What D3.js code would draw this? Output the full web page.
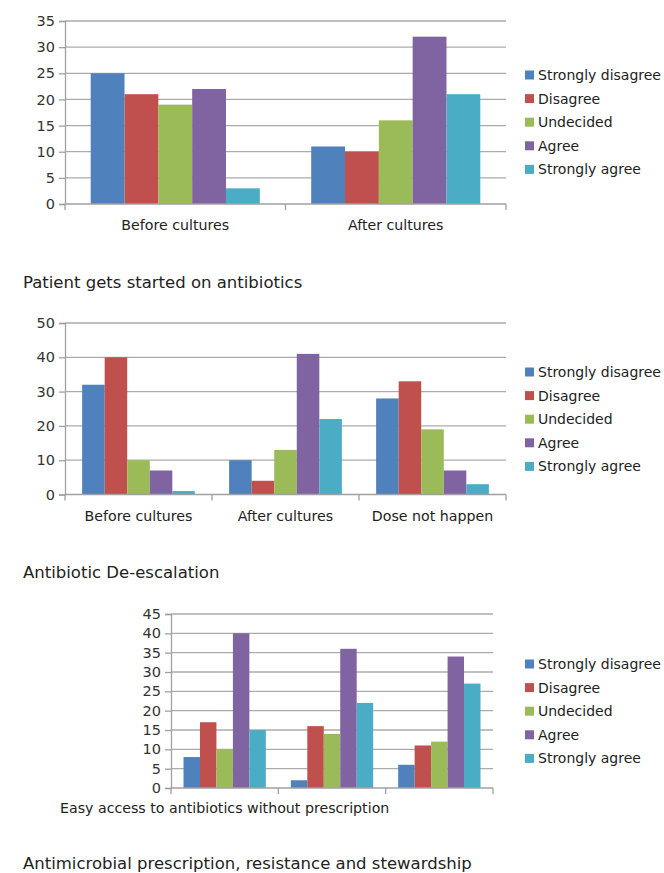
<!DOCTYPE html>
<html>
<head>
<meta charset="utf-8">
<script src="https://cdn.jsdelivr.net/npm/d3@7"></script>
<style>
  body { margin: 0; background: #fff; }
  svg { display: block; font-family: "DejaVu Sans", Verdana, sans-serif; }
</style>
</head>
<body>
<svg id="chart" width="664" height="873"></svg>
<script>
// Response levels shared by all three panels
const series = ["Strongly disagree", "Disagree", "Undecided", "Agree", "Strongly agree"];
const colors = ["#4f81bd", "#c0504d", "#9bbb59", "#8064a2", "#4bacc6"];

// Panel 1: Patient gets started on antibiotics
const startCategories = ["Before cultures", "After cultures"];
const startValues = [
  [25, 21, 19, 22, 3],
  [11, 10, 16, 32, 21]
];
const startTicks = [0, 5, 10, 15, 20, 25, 30, 35];

// Panel 2: Antibiotic De-escalation
const deescCategories = ["Before cultures", "After cultures", "Dose not happen"];
const deescValues = [
  [32, 40, 10, 7, 1],
  [10, 4, 13, 41, 22],
  [28, 33, 19, 7, 3]
];
const deescTicks = [0, 10, 20, 30, 40, 50];

// Panel 3: Antimicrobial prescription, resistance and stewardship
const amsCategories = ["Easy access to antibiotics without prescription", "", ""];
const amsValues = [
  [8, 17, 10, 40, 15],
  [2, 16, 14, 36, 22],
  [6, 11, 12, 34, 27]
];
const amsTicks = [0, 5, 10, 15, 20, 25, 30, 35, 40, 45];

const titles = [
  "Patient gets started on antibiotics",
  "Antibiotic De-escalation",
  "Antimicrobial prescription, resistance and stewardship"
];

const svg = d3.select("#chart");

function panel(cfg) {
  const g = svg.append("g");
  const x = d3.scaleBand().domain(d3.range(cfg.categories.length))
    .range([cfg.left, cfg.right]);
  const yMax = cfg.ticks[cfg.ticks.length - 1];
  const y = d3.scaleLinear().domain([0, yMax]).range([cfg.bottom, cfg.top]);
  const inner = d3.scaleBand().domain(series).range([0, x.bandwidth()])
    .paddingOuter(0.76).paddingInner(0);

  // horizontal gridlines
  g.append("g").selectAll("line").data(cfg.ticks.slice(1)).join("line")
    .attr("x1", cfg.left).attr("x2", cfg.right)
    .attr("y1", d => y(d)).attr("y2", d => y(d))
    .attr("stroke", "#ababab").attr("stroke-width", 1.3);

  // y axis
  const yAxis = g.append("g").attr("transform", `translate(${cfg.left},0)`)
    .call(d3.axisLeft(y).tickValues(cfg.ticks).tickSize(6).tickPadding(4));
  yAxis.select(".domain").attr("stroke", "#a0a0a0").attr("stroke-width", 1.3);
  yAxis.selectAll(".tick line").attr("stroke", "#a0a0a0").attr("stroke-width", 1.3);
  yAxis.selectAll("text").attr("font-size", 14.5).attr("fill", "#333")
    .attr("font-family", "DejaVu Sans, sans-serif");

  // bars
  cfg.values.forEach((row, ci) => {
    g.append("g").selectAll("rect").data(row).join("rect")
      .attr("x", (d, i) => x(ci) + inner(series[i]))
      .attr("width", inner.bandwidth())
      .attr("y", d => y(d))
      .attr("height", d => y(0) - y(d))
      .attr("fill", (d, i) => colors[i]);
  });

  // x axis baseline with category boundary ticks
  const bounds = d3.range(cfg.categories.length + 1).map(i =>
    i < cfg.categories.length ? x(i) : cfg.right);
  g.append("line").attr("x1", cfg.left).attr("x2", cfg.right)
    .attr("y1", y(0)).attr("y2", y(0))
    .attr("stroke", "#a0a0a0").attr("stroke-width", 1.3);
  g.append("g").selectAll("line").data(bounds).join("line")
    .attr("x1", d => d).attr("x2", d => d)
    .attr("y1", y(0)).attr("y2", y(0) + 6)
    .attr("stroke", "#a0a0a0").attr("stroke-width", 1.3);

  // category labels
  g.append("g").selectAll("text").data(cfg.categories).join("text")
    .attr("x", (d, i) => x(i) + x.bandwidth() / 2)
    .attr("y", y(0) + cfg.labelGap)
    .attr("text-anchor", "middle")
    .attr("font-size", 14.2).attr("fill", "#222")
    .text(d => d);

  // legend
  const lg = g.append("g").attr("transform", `translate(525,${cfg.legendTop})`);
  series.forEach((s, i) => {
    const row = lg.append("g").attr("transform", `translate(0,${i * 23.6})`);
    row.append("rect").attr("x", 0).attr("y", -4.5).attr("width", 9).attr("height", 9)
      .attr("fill", colors[i]);
    row.append("text").attr("x", 13).attr("y", 0).attr("dy", "0.35em")
      .attr("font-size", 14).attr("fill", "#222").text(s);
  });

  // panel title
  svg.append("text").attr("x", 23).attr("y", cfg.titleY)
    .attr("font-size", 16.5).attr("fill", "#222").text(cfg.title);
}

panel({
  categories: startCategories, values: startValues, ticks: startTicks,
  left: 65, right: 506, top: 21, bottom: 204,
  labelGap: 26, legendTop: 75, title: titles[0], titleY: 288
});
panel({
  categories: deescCategories, values: deescValues, ticks: deescTicks,
  left: 65, right: 506, top: 323, bottom: 494.5,
  labelGap: 26, legendTop: 372, title: titles[1], titleY: 578
});
panel({
  categories: amsCategories, values: amsValues, ticks: amsTicks,
  left: 171, right: 493, top: 614, bottom: 788,
  labelGap: 25, legendTop: 664, title: titles[2], titleY: 869
});
</script>
</body>
</html>
